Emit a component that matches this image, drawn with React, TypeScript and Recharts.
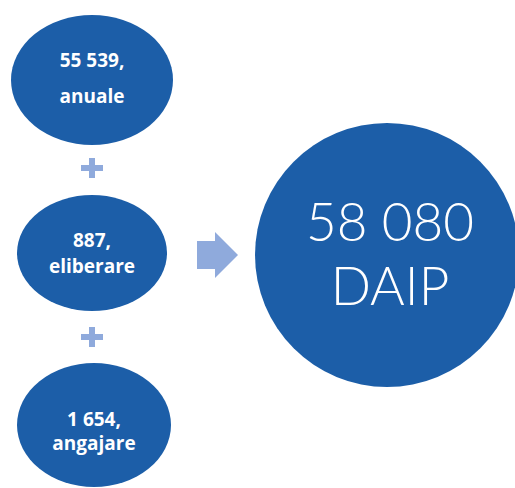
import React from "react";
import { ScatterChart, Scatter, XAxis, YAxis } from "recharts";

// valori DAIP
const componentValues = [55539, 887, 1654];
const componentLabels = ["anuale", "eliberare", "angajare"];
const totalLabel = "DAIP";

// layout (pixeli în spațiul graficului)
const componentX = [92, 92, 94];
const componentY = [80, 253, 425];
const componentRx = [81, 75, 77];
const componentRy = [65, 58, 62];
const lineOneDy = [-13, -6, 1];
const lineTwoDy = [23, 20, 25];
const plusY = [168, 337];

const BLUE = "#1C5EA8";
const LIGHT = "#8FAADC";
const W = 515;
const H = 488;

const fmt = (n: number) => n.toString().replace(/\B(?=(\d{3})+(?!\d))/g, " ");

const total = componentValues.reduce((a, b) => a + b, 0);

const componentData = componentValues.map((v, i) => ({
  x: componentX[i],
  y: componentY[i],
  value: fmt(v) + ",",
  label: componentLabels[i],
  rx: componentRx[i],
  ry: componentRy[i],
  d1: lineOneDy[i],
  d2: lineTwoDy[i],
}));

const plusData = plusY.map((y) => ({ x: 92, y }));
const arrowData = [{ x: 217, y: 255 }];
const totalData = [{ x: 387, y: 255, value: fmt(total), label: totalLabel }];

const EllipseNode = (props: any) => {
  const { cx, cy, payload } = props;
  return (
    <g>
      <ellipse cx={cx} cy={cy} rx={payload.rx} ry={payload.ry} fill={BLUE} />
      <text
        x={cx}
        y={cy + payload.d1}
        textAnchor="middle"
        fill="#fff"
        fontFamily="'Open Sans', sans-serif"
        fontWeight={700}
        fontSize={19}
      >
        {payload.value}
      </text>
      <text
        x={cx}
        y={cy + payload.d2}
        textAnchor="middle"
        fill="#fff"
        fontFamily="'Open Sans', sans-serif"
        fontWeight={700}
        fontSize={19}
      >
        {payload.label}
      </text>
    </g>
  );
};

const PlusSign = (props: any) => {
  const { cx, cy } = props;
  return (
    <g fill={LIGHT}>
      <rect x={cx - 11} y={cy - 3} width={22} height={6} />
      <rect x={cx - 3} y={cy - 10} width={6} height={20} />
    </g>
  );
};

const Arrow = (props: any) => {
  const { cx, cy } = props;
  const pts = [
    [cx - 20, cy - 14],
    [cx - 2, cy - 14],
    [cx - 2, cy - 23],
    [cx + 21, cy],
    [cx - 2, cy + 23],
    [cx - 2, cy + 14],
    [cx - 20, cy + 14],
  ]
    .map((p) => p.join(","))
    .join(" ");
  return <polygon points={pts} fill={LIGHT} />;
};

const TotalNode = (props: any) => {
  const { cx, cy, payload } = props;
  return (
    <g>
      <circle cx={cx} cy={cy} r={132} fill={BLUE} />
      <text
        x={cx + 3}
        y={cy - 14}
        textAnchor="middle"
        fill="#fff"
        fontFamily="Lato, sans-serif"
        fontWeight={300}
        fontSize={53}
      >
        {payload.value}
      </text>
      <text
        x={cx + 3}
        y={cy + 50}
        textAnchor="middle"
        fill="#fff"
        fontFamily="Lato, sans-serif"
        fontWeight={300}
        fontSize={53}
      >
        {payload.label}
      </text>
    </g>
  );
};

export default function App() {
  return (
    <div style={{ position: "fixed", left: 0, top: 0, width: W, height: H, background: "#fff" }}>
      <ScatterChart width={W} height={H} margin={{ top: 0, right: 0, bottom: 0, left: 0 }}>
        <XAxis type="number" dataKey="x" domain={[0, W]} hide />
        <YAxis type="number" dataKey="y" domain={[0, H]} reversed hide />
        <Scatter data={totalData} shape={TotalNode} isAnimationActive={false} />
        <Scatter data={componentData} shape={EllipseNode} isAnimationActive={false} />
        <Scatter data={plusData} shape={PlusSign} isAnimationActive={false} />
        <Scatter data={arrowData} shape={Arrow} isAnimationActive={false} />
      </ScatterChart>
    </div>
  );
}
